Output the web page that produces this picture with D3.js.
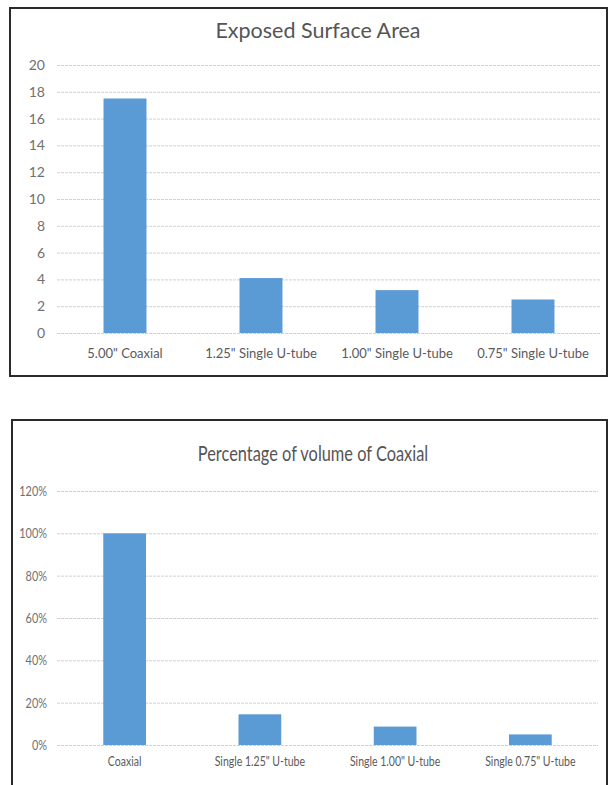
<!DOCTYPE html>
<html><head><meta charset="utf-8">
<script src="https://cdn.jsdelivr.net/npm/d3@7"></script>
<style>body{margin:0;background:#fff}</style>
</head><body>
<svg id="c" width="610" height="785"></svg>
<script>
const categories1 = ['5.00" Coaxial', '1.25" Single U-tube', '1.00" Single U-tube', '0.75" Single U-tube'];
const values1 = [17.5, 4.1, 3.2, 2.5];
const ticks1 = [0, 2, 4, 6, 8, 10, 12, 14, 16, 18, 20];

const categories2 = ['Coaxial', 'Single 1.25" U-tube', 'Single 1.00" U-tube', 'Single 0.75" U-tube'];
const values2 = [1.00, 0.145, 0.087, 0.05];
const ticks2 = [0, 0.2, 0.4, 0.6, 0.8, 1.0, 1.2];

const svg = d3.select('#c');
svg.append('rect').attr('width', 610).attr('height', 785).attr('fill', '#fff');
const blue = '#5b9bd5';
const font = 'Lato, "Open Sans", sans-serif';

function chart(o) {
  const g = svg.append('g');
  g.append('rect').attr('x', o.box[0]).attr('y', o.box[1]).attr('width', o.box[2]).attr('height', o.box[3])
    .attr('fill', 'none').attr('stroke', '#2a2a2a').attr('stroke-width', 2);
  g.append('text').attr('x', o.titleX / o.sx).attr('y', o.titleY).attr('text-anchor', 'middle')
    .attr('transform', `scale(${o.sx},1)`)
    .attr('font-family', font).attr('font-size', o.titleSize).attr('fill', '#555').text(o.title);
  const x = d3.scaleBand().domain(o.cats).range(o.xr).paddingInner(0.684).paddingOuter(0.342);
  const y = d3.scaleLinear().domain(o.yd).range(o.yr);
  const ya = d3.axisLeft(y).tickValues(o.ticks).tickSize(-(o.xr[1] - o.xr[0])).tickPadding(o.yPad).tickFormat(o.fmt);
  const ag = g.append('g').attr('transform', `translate(${o.xr[0]},0)`).call(ya);
  ag.select('.domain').remove();
  ag.selectAll('.tick line').attr('stroke', '#d0d0d0').attr('stroke-width', 1).attr('stroke-dasharray', '3,1');
  ag.selectAll('.tick text').attr('font-family', font).attr('font-size', o.tickSize).attr('fill', '#707070')
    .attr('x', -o.yPad / o.sx).attr('transform', `scale(${o.sx},1)`);
  g.selectAll('.bar').data(o.vals).enter().append('rect')
    .attr('x', (d, i) => x(o.cats[i])).attr('width', x.bandwidth())
    .attr('y', d => y(d)).attr('height', d => y(0) - y(d)).attr('fill', blue);
  const xa = d3.axisBottom(x).tickSize(0).tickPadding(o.labPad);
  const xg = g.append('g').attr('transform', `translate(0,${o.yr[0]})`).call(xa);
  xg.select('.domain').remove();
  xg.selectAll('.tick text').attr('font-family', font).attr('font-size', o.labSize).attr('fill', '#5a5a5a')
    .attr('transform', `scale(${o.sx},1)`);
}

chart({
  box: [10, 8, 597, 368], title: 'Exposed Surface Area', titleX: 318, titleY: 38, titleSize: 21.5, sx: 1,
  cats: categories1, vals: values1, ticks: ticks1, yd: [0, 20], yr: [333, 65], xr: [57, 601],
  fmt: d3.format('d'), tickSize: 14, yPad: 12, labSize: 13, labPad: 16
});

chart({
  box: [12, 420, 595, 380], title: 'Percentage of volume of Coaxial', titleX: 313, titleY: 461, titleSize: 21, sx: 0.78,
  cats: categories2, vals: values2, ticks: ticks2, yd: [0, 1.2], yr: [745, 491], xr: [57, 598],
  fmt: d3.format('.0%'), tickSize: 14, yPad: 10, labSize: 13.5, labPad: 11
});
</script>
</body></html>
